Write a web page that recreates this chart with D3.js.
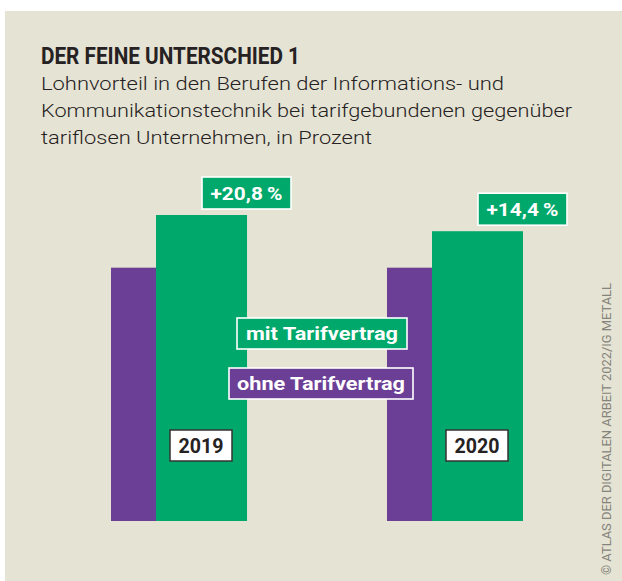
<!DOCTYPE html>
<html>
<head>
<meta charset="utf-8">
<script src="https://cdn.jsdelivr.net/npm/d3@7"></script>
<style>
  html, body { margin: 0; padding: 0; background: #fff; }
  svg { display: block; }
</style>
</head>
<body>
<svg id="chart" width="622" height="581"></svg>
<script>
// ----------------------------
// Data
// ----------------------------
var years = ["2019", "2020"];
var ohneTarif = [100, 100];          // tariflose Unternehmen = Basis
var mitTarif = [120.8, 114.4];       // tarifgebundene Unternehmen
var diffLabels = ["+20,8\u2009%", "+14,4\u2009%"];
var seriesNames = ["mit Tarifvertrag", "ohne Tarifvertrag"];

var titleText = "DER FEINE UNTERSCHIED 1";
var subtitleLines = [
    "Lohnvorteil in den Berufen der Informations- und",
    "Kommunikationstechnik bei tarifgebundenen gegenüber",
    "tariflosen Unternehmen, in Prozent"
];
var sourceText = "© ATLAS DER DIGITALEN ARBEIT 2022/IG METALL";

// ----------------------------
// Styles
// ----------------------------
var green = "#00a96b",
    purple = "#6c3f97",
    beige = "#e5e3d3",
    dark = "#262223",
    fontFamily = "Roboto, 'DejaVu Sans', sans-serif";

var svg = d3.select("#chart");

// Background panel
svg.append("rect")
    .attr("x", 5).attr("y", 11)
    .attr("width", 617).attr("height", 570)
    .attr("fill", beige);

// ----------------------------
// Title and subtitle
// ----------------------------
svg.append("text")
    .attr("x", 41).attr("y", 64)
    .attr("font-family", fontFamily)
    .attr("font-weight", "bold")
    .attr("font-size", 23.5)
    .attr("textLength", 259)
    .attr("lengthAdjust", "spacingAndGlyphs")
    .attr("fill", dark)
    .text(titleText);

var subWidths = [463, 531, 331];
svg.selectAll(".subtitle")
    .data(subtitleLines)
    .enter().append("text")
    .attr("class", "subtitle")
    .attr("x", 41)
    .attr("y", (d, i) => 90 + i * 27)
    .attr("font-family", fontFamily)
    .attr("font-weight", 300)
    .attr("font-size", 19)
    .attr("textLength", (d, i) => subWidths[i])
    .attr("lengthAdjust", "spacingAndGlyphs")
    .attr("fill", dark)
    .text(d => d);

// ----------------------------
// Scales
// ----------------------------
var x = d3.scaleBand()
    .domain(years)
    .range([111, 523])
    .paddingInner(0.5072);

var y = d3.scaleLinear()
    .domain([0, d3.max(mitTarif)])
    .range([521, 215]);

var bw = x.bandwidth();
var purpleW = bw * 45 / 136;

var data = years.map((yr, i) => ({
    year: yr, ohne: ohneTarif[i], mit: mitTarif[i], label: diffLabels[i]
}));

var groups = svg.selectAll(".group")
    .data(data)
    .enter().append("g")
    .attr("class", "group")
    .attr("transform", d => `translate(${x(d.year)},0)`);

// Purple bars (ohne Tarifvertrag)
groups.append("rect")
    .attr("x", 0)
    .attr("y", d => y(d.ohne))
    .attr("width", purpleW)
    .attr("height", d => y(0) - y(d.ohne))
    .attr("fill", purple);

// Green bars (mit Tarifvertrag)
groups.append("rect")
    .attr("x", purpleW)
    .attr("y", d => y(d.mit))
    .attr("width", bw - purpleW)
    .attr("height", d => y(0) - y(d.mit))
    .attr("fill", green);

// Value boxes above green bars
groups.append("rect")
    .attr("x", purpleW + 46)
    .attr("y", d => y(d.mit) - 38)
    .attr("width", 89)
    .attr("height", 32)
    .attr("fill", green)
    .attr("stroke", "#fff")
    .attr("stroke-width", 1.6);

groups.append("text")
    .attr("x", purpleW + 46 + 44.5)
    .attr("y", d => y(d.mit) - 15.5)
    .attr("text-anchor", "middle")
    .attr("font-family", fontFamily)
    .attr("font-weight", "bold")
    .attr("font-size", 19)
    .attr("textLength", 72)
    .attr("lengthAdjust", "spacingAndGlyphs")
    .attr("fill", "#fff")
    .text(d => d.label);

// Year boxes
groups.append("rect")
    .attr("x", purpleW + 14)
    .attr("y", 430)
    .attr("width", 62)
    .attr("height", 31)
    .attr("fill", "#fff")
    .attr("stroke", "#333")
    .attr("stroke-width", 1.5);

groups.append("text")
    .attr("x", purpleW + 14 + 31)
    .attr("y", 453)
    .attr("text-anchor", "middle")
    .attr("font-family", fontFamily)
    .attr("font-weight", "bold")
    .attr("font-size", 20)
    .attr("textLength", 45)
    .attr("lengthAdjust", "spacingAndGlyphs")
    .attr("fill", dark)
    .text(d => d.year);

// ----------------------------
// Legend (in the middle)
// ----------------------------
var legend = [
    { name: seriesNames[0], color: green, x: 237, y: 318, w: 170, h: 31, tw: 152 },
    { name: seriesNames[1], color: purple, x: 229, y: 368, w: 184, h: 31, tw: 168 }
];

var lg = svg.selectAll(".legend")
    .data(legend)
    .enter().append("g")
    .attr("class", "legend");

lg.append("rect")
    .attr("x", d => d.x).attr("y", d => d.y)
    .attr("width", d => d.w).attr("height", d => d.h)
    .attr("fill", d => d.color)
    .attr("stroke", "#fff")
    .attr("stroke-width", 1.6);

lg.append("text")
    .attr("x", d => d.x + d.w / 2)
    .attr("y", d => d.y + 22)
    .attr("text-anchor", "middle")
    .attr("font-family", fontFamily)
    .attr("font-weight", "bold")
    .attr("font-size", 19)
    .attr("textLength", d => d.tw)
    .attr("lengthAdjust", "spacingAndGlyphs")
    .attr("fill", "#fff")
    .text(d => d.name);

// ----------------------------
// Source (vertical)
// ----------------------------
svg.append("text")
    .attr("transform", "translate(611,575) rotate(-90)")
    .attr("font-family", fontFamily)
    .attr("font-size", 12.5)
    .attr("textLength", 292)
    .attr("lengthAdjust", "spacingAndGlyphs")
    .attr("fill", "#85847c")
    .text(sourceText);
</script>
</body>
</html>
